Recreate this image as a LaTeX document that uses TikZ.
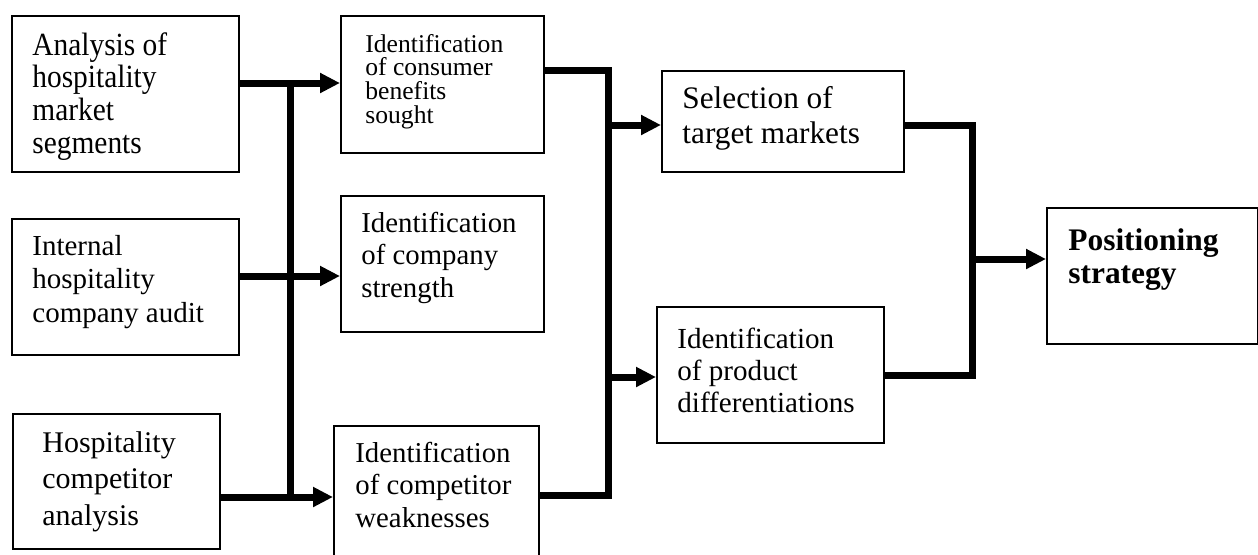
\documentclass[tikz,border=0pt]{standalone}
\usepackage{fontspec}
\setmainfont{Liberation Serif}
\usetikzlibrary{arrows.meta}

% multi-line label whose reference point is the first baseline;
% first argument stretches the lettering vertically
\newcommand{\boxtext}[4]{\scalebox{1}[#1]{\parbox[t]{6cm}{\fontsize{#2}{#3}\selectfont #4}}}

\begin{document}
\begin{tikzpicture}[x=0.5pt, y=-0.5pt,
  box/.style={draw, line width=0.8pt, inner sep=0pt, anchor=north west},
  txt/.style={inner sep=0pt, anchor=base west},
  conn/.style={line width=3.5pt, line join=miter, line cap=butt},
  arrowline/.style={conn, -{Triangle[length=10pt, width=9.5pt]}}]
\useasboundingbox (0,0) rectangle (1258,554);
\clip (0,0) rectangle (1258,554);

% boxes
\node[box, minimum width=113.5pt, minimum height=78pt]   (a)   at (11,15)   {};
\node[box, minimum width=113.5pt, minimum height=68pt]   (b)   at (11,218)  {};
\node[box, minimum width=103.5pt, minimum height=67.5pt] (c)   at (12,413)  {};
\node[box, minimum width=101.5pt, minimum height=68.5pt] (d)   at (340,15)  {};
\node[box, minimum width=101.5pt, minimum height=68pt]   (e)   at (340,195) {};
\node[box, minimum width=102.5pt, minimum height=70pt]   (f)   at (333,425) {};
\node[box, minimum width=121pt,   minimum height=50.5pt] (g)   at (661,70)  {};
\node[box, minimum width=113.5pt, minimum height=68pt]   (h)   at (656,306) {};
\node[box, minimum width=105.5pt, minimum height=68pt]   (pos) at (1046,207) {};

% labels
\node[txt] (ta) at (32,55)   {\boxtext{1.1}{14.7}{14.9}{Analysis of\\hospitality\\market\\segments}};
\node[txt] (tb) at (32,255)  {\boxtext{1}{14.5}{16.75}{Internal\\hospitality\\company audit}};
\node[txt] (tc) at (42,452)  {\boxtext{1}{15}{18.25}{Hospitality\\competitor\\analysis}};
\node[txt] (td) at (365,52)  {\boxtext{1}{12.8}{11.85}{Identification\\of consumer\\benefits\\sought}};
\node[txt] (te) at (361,232) {\boxtext{1}{14.4}{16.25}{Identification\\of company\\strength}};
\node[txt] (tf) at (355,462) {\boxtext{1}{14.4}{16.25}{Identification\\of competitor\\weaknesses}};
\node[txt] (tg) at (682,108) {\boxtext{1}{15.65}{17.5}{Selection of\\target markets}};
\node[txt] (th) at (677,348) {\boxtext{1}{14.55}{16}{Identification\\of product\\differentiations}};
\node[txt] (tp) at (1068,250) {\boxtext{1}{15.7}{16.5}{\bfseries Positioning\\strategy}};

% first stage: inputs to identification boxes, joined by a common bar
\coordinate (r1) at (290,83);
\coordinate (r2) at (290,276);
\coordinate (r3) at (290,497);
\draw[arrowline] (a.east |- r1) -- (d.west |- r1);
\draw[arrowline] (b.east |- r2) -- (e.west |- r2);
\draw[arrowline] (c.east |- r3) -- (f.west |- r3);
\draw[conn] (r1) -- (r3);

% second stage: bracket from identification boxes to targets/differentiation
\coordinate (j2t) at (608,70);
\coordinate (j2b) at (608,495);
\coordinate (j2g) at (608,125);
\coordinate (j2h) at (608,377);
\draw[conn] (d.east |- j2t) -- (j2t) -- (j2b) -- (f.east |- j2b);
\draw[arrowline] (j2g) -- (g.west |- j2g);
\draw[arrowline] (j2h) -- (h.west |- j2h);

% third stage: bracket into positioning strategy
\coordinate (j3t) at (972,125);
\coordinate (j3b) at (972,375);
\coordinate (j3p) at (972,259);
\draw[conn] (g.east |- j3t) -- (j3t) -- (j3b) -- (h.east |- j3b);
\draw[arrowline] (j3p) -- (pos.west |- j3p);
\end{tikzpicture}
\end{document}
